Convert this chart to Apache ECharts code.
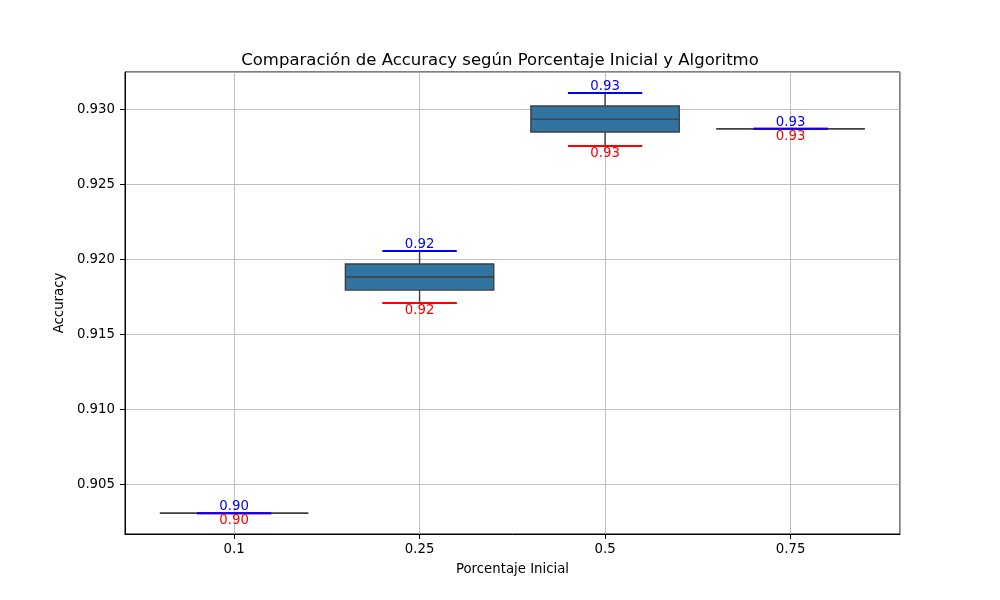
<!DOCTYPE html>
<html>
<head>
<meta charset="utf-8">
<script src="https://cdn.jsdelivr.net/npm/echarts@6/dist/echarts.min.js"></script>
<style>
  html, body { margin: 0; padding: 0; background: #fff; }
  #chart { width: 1000px; height: 600px; }
</style>
</head>
<body>
<div id="chart"></div>
<script>
// categories (Porcentaje Inicial)
var categories = ['0.1', '0.25', '0.5', '0.75'];
// box statistics per category
var minVals = [0.90305, 0.91707, 0.92753, 0.92869];
var q1Vals = [0.90305, 0.91793, 0.92847, 0.92869];
var medVals = [0.90305, 0.91880, 0.92933, 0.92869];
var q3Vals = [0.90305, 0.91967, 0.93020, 0.92869];
var maxVals = [0.90305, 0.92053, 0.93107, 0.92869];
// axis ranges (x is category index, with the plot's side padding)
var xMin = -0.588;
var xMax = 3.59;
var yMin = 0.90167;
var yMax = 0.93247;

var font = 'DejaVu Sans';
var chart = echarts.init(document.getElementById('chart'));

var boxData = categories.map(function (c, i) {
    return [i, minVals[i], q1Vals[i], medVals[i], q3Vals[i], maxVals[i]];
});
var extremeData = categories.map(function (c, i) {
    return [i, minVals[i], maxVals[i]];
});

function renderBox(params, api) {
    var i = api.value(0);
    var band = api.size([1, 0])[0];
    var half = band * 0.4;
    var cap = band * 0.2;
    var x = api.coord([i, 0])[0];
    var pMin = api.coord([i, api.value(1)])[1];
    var pQ1 = api.coord([i, api.value(2)])[1];
    var pMed = api.coord([i, api.value(3)])[1];
    var pQ3 = api.coord([i, api.value(4)])[1];
    var pMax = api.coord([i, api.value(5)])[1];
    var stroke = '#3f3f3f';
    return {
        type: 'group',
        children: [
            { type: 'line', shape: { x1: x, y1: pQ1, x2: x, y2: pMin }, style: { stroke: stroke, lineWidth: 1.4 } },
            { type: 'line', shape: { x1: x, y1: pQ3, x2: x, y2: pMax }, style: { stroke: stroke, lineWidth: 1.4 } },
            { type: 'line', shape: { x1: x - cap, y1: pMin, x2: x + cap, y2: pMin }, style: { stroke: stroke, lineWidth: 1.4 } },
            { type: 'line', shape: { x1: x - cap, y1: pMax, x2: x + cap, y2: pMax }, style: { stroke: stroke, lineWidth: 1.4 } },
            { type: 'rect', shape: { x: x - half, y: pQ3, width: half * 2, height: pQ1 - pQ3 }, style: { fill: '#3274a1', stroke: stroke, lineWidth: 1.4 } },
            { type: 'line', shape: { x1: x - half, y1: pMed, x2: x + half, y2: pMed }, style: { stroke: stroke, lineWidth: 1.4 } }
        ]
    };
}

function renderExtremes(params, api) {
    var i = api.value(0);
    var band = api.size([1, 0])[0];
    var w = band * 0.2;
    var x = api.coord([i, 0])[0];
    var lo = api.value(1), hi = api.value(2);
    var pLo = api.coord([i, lo])[1];
    var pHi = api.coord([i, hi])[1];
    return {
        type: 'group',
        children: [
            { type: 'line', shape: { x1: x - w, y1: pLo, x2: x + w, y2: pLo }, style: { stroke: '#ff0000', lineWidth: 2 } },
            { type: 'line', shape: { x1: x - w, y1: pHi, x2: x + w, y2: pHi }, style: { stroke: '#0000ff', lineWidth: 2 } },
            { type: 'text', x: x, y: pLo + 1, style: { text: lo.toFixed(2), fill: '#ff0000', font: '13.3px "' + font + '"', align: 'center', verticalAlign: 'top' } },
            { type: 'text', x: x, y: pHi, style: { text: hi.toFixed(2), fill: '#0000ff', font: '13.3px "' + font + '"', align: 'center', verticalAlign: 'bottom' } }
        ]
    };
}

chart.setOption({
    animation: false,
    textStyle: { fontFamily: font },
    title: {
        text: 'Comparación de Accuracy según Porcentaje Inicial y Algoritmo',
        left: 'center',
        top: 47,
        textStyle: { fontFamily: font, fontSize: 16.5, fontWeight: 'normal', color: '#000' }
    },
    grid: {
        left: 125, right: 100, top: 72, bottom: 66,
        show: true, borderColor: '#000', borderWidth: 1
    },
    xAxis: {
        type: 'value',
        min: xMin,
        max: xMax,
        minInterval: 1,
        maxInterval: 1,
        name: 'Porcentaje Inicial',
        nameLocation: 'middle',
        nameGap: 29,
        nameTextStyle: { fontFamily: font, fontSize: 13.3, color: '#000' },
        axisLine: { onZero: false, lineStyle: { color: '#000' } },
        axisTick: { length: 5, lineStyle: { color: '#000' } },
        axisLabel: {
            fontFamily: font, fontSize: 13.3, color: '#000', margin: 9,
            showMinLabel: false, showMaxLabel: false,
            formatter: function (v) {
                var k = Math.round(v);
                return Math.abs(v - k) < 1e-6 && categories[k] !== undefined ? categories[k] : '';
            }
        },
        splitLine: { show: true, lineStyle: { color: '#b0b0b0', width: 0.8 } }
    },
    yAxis: {
        type: 'value',
        min: yMin,
        max: yMax,
        splitNumber: 5,
        name: 'Accuracy',
        nameLocation: 'middle',
        nameGap: 53,
        nameTextStyle: { fontFamily: font, fontSize: 13.3, color: '#000' },
        axisLine: { show: true, onZero: false, lineStyle: { color: '#000' } },
        axisTick: { show: true, length: 5, lineStyle: { color: '#000' } },
        axisLabel: {
            fontFamily: font, fontSize: 13.3, color: '#000', margin: 10,
            showMinLabel: false, showMaxLabel: false,
            formatter: function (v) { return v.toFixed(3); }
        },
        splitLine: { show: true, lineStyle: { color: '#b0b0b0', width: 0.8 } }
    },
    series: [
        {
            type: 'custom',
            z: 2,
            renderItem: renderBox,
            data: boxData
        },
        {
            type: 'custom',
            z: 3,
            renderItem: renderExtremes,
            data: extremeData
        }
    ]
});
</script>
</body>
</html>
